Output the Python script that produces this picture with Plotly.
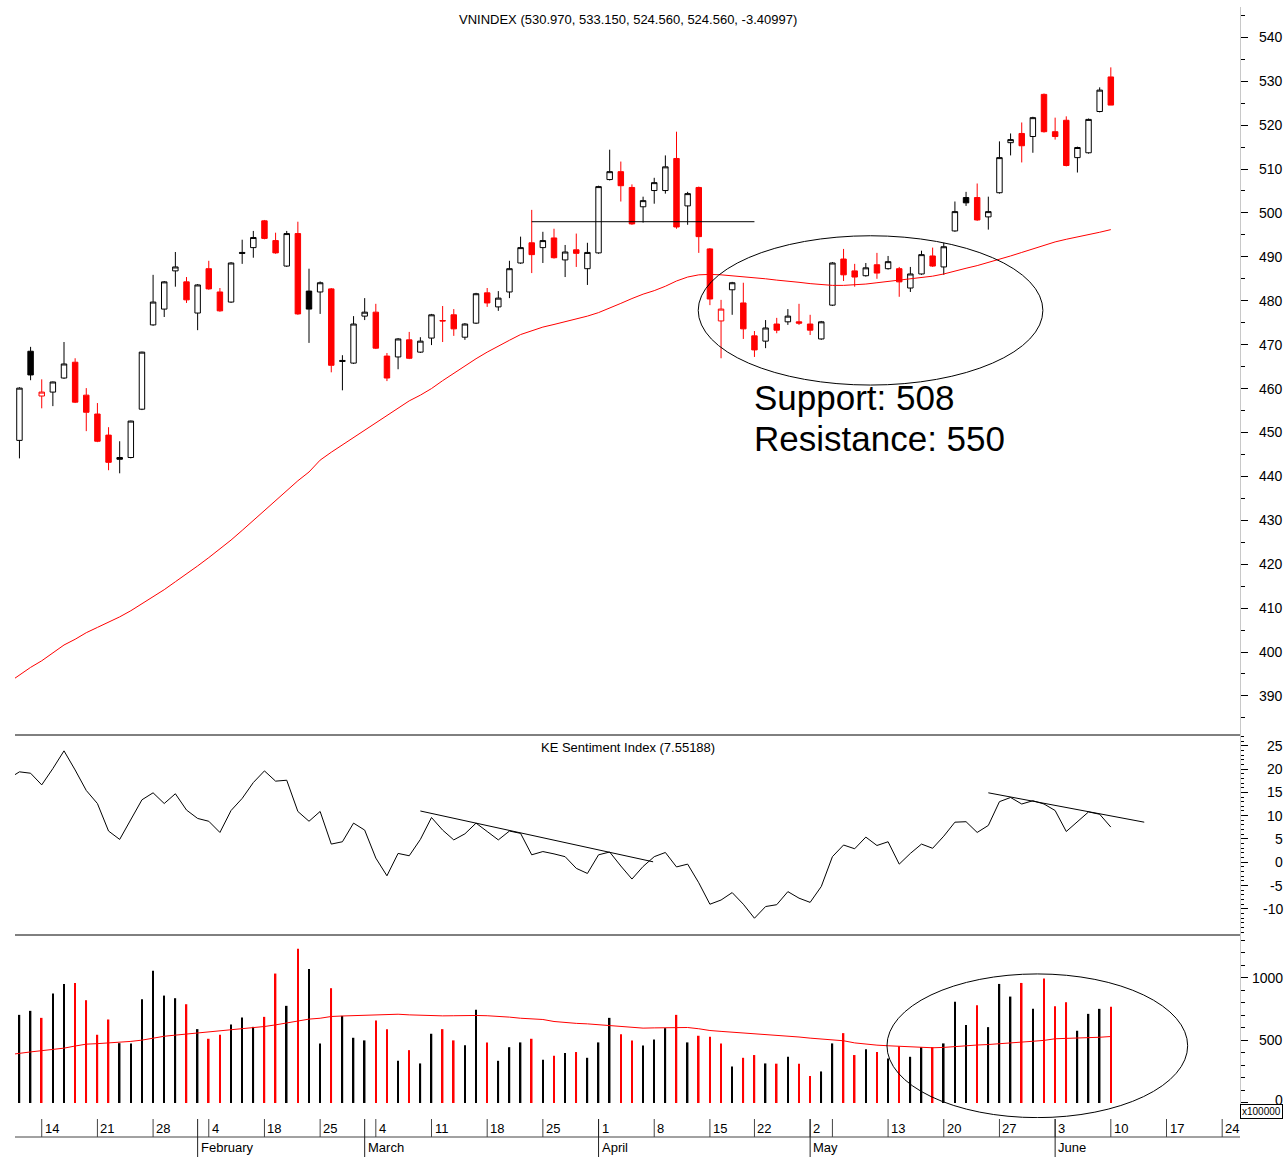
import plotly.graph_objects as go
from plotly.subplots import make_subplots

# trading-day index 0 = 10 Jan 2013, last bar (98) = 10 Jun 2013
opens = [448.2, 468.5, 458.3, 459.2, 462.4, 466.0, 458.5, 454.2, 449.4, 444.3,
         444.3, 455.3, 474.5, 478.1, 486.8, 484.3, 477.2, 487.3, 482.0, 479.7,
         491.0, 492.1, 498.2, 493.7, 487.9, 495.3, 482.2, 482.0, 482.7, 466.4,
         465.8, 476.5, 477.4, 467.4, 467.2, 471.1, 468.3, 471.5, 475.5, 476.8,
         471.7, 474.9, 481.8, 478.6, 482.0, 488.6, 493.2, 492.1, 494.3, 489.3,
         491.6, 487.3, 490.9, 507.6, 509.4, 505.8, 501.4, 505.1, 505.1, 512.4,
         501.6, 505.8, 491.8, 475.4, 482.5, 479.5, 472.0, 470.8, 474.7, 475.2,
         475.2, 474.7, 471.3, 479.0, 489.5, 486.8, 485.7, 488.2, 487.3, 487.3,
         482.9, 486.1, 490.2, 487.7, 495.9, 503.5, 503.5, 499.1, 504.6, 516.0,
         518.1, 517.4, 527.0, 518.5, 521.1, 512.6, 513.7, 523.1, 530.97]
highs = [460.3, 469.5, 462.1, 461.6, 470.6, 466.9, 460.1, 456.7, 451.2, 448.0,
         452.7, 468.4, 485.9, 484.5, 491.1, 485.4, 483.8, 489.1, 482.9, 488.8,
         493.9, 495.9, 498.4, 495.5, 495.9, 498.0, 487.3, 484.4, 482.9, 467.6,
         476.5, 480.6, 479.3, 468.1, 471.5, 472.9, 471.7, 477.0, 478.8, 478.1,
         474.9, 481.8, 482.9, 482.2, 489.1, 494.6, 500.7, 495.7, 496.4, 492.7,
         495.3, 493.2, 506.2, 514.4, 511.7, 506.5, 503.7, 508.0, 513.1, 518.5,
         504.8, 506.0, 492.0, 480.2, 484.3, 484.1, 473.1, 475.6, 476.1, 478.1,
         479.3, 476.8, 475.4, 488.8, 491.8, 488.4, 488.6, 490.9, 490.2, 487.7,
         487.7, 491.4, 492.1, 493.2, 502.6, 504.8, 506.7, 503.7, 516.3, 518.1,
         520.6, 521.9, 527.2, 521.7, 522.0, 515.1, 521.5, 528.6, 533.15]
lows = [444.1, 461.9, 455.5, 456.0, 462.2, 456.7, 450.3, 447.8, 441.4, 440.7,
        444.1, 455.1, 474.3, 476.3, 483.2, 479.5, 473.3, 482.5, 477.5, 479.5,
        488.4, 489.8, 494.0, 490.7, 487.7, 476.8, 470.4, 477.0, 463.7, 459.6,
        465.6, 475.6, 469.0, 461.7, 464.4, 466.7, 468.1, 469.9, 470.6, 472.0,
        471.1, 474.7, 478.6, 477.7, 480.6, 488.4, 486.3, 488.6, 489.6, 485.4,
        487.7, 483.6, 490.7, 507.4, 502.6, 497.3, 497.8, 502.1, 504.4, 496.4,
        497.3, 490.9, 479.0, 466.9, 476.8, 471.3, 467.2, 469.2, 472.6, 474.5,
        474.5, 472.2, 471.1, 478.8, 484.5, 483.2, 485.5, 485.0, 487.1, 480.9,
        482.0, 485.9, 487.7, 485.9, 495.7, 501.6, 498.2, 496.2, 504.4, 513.1,
        511.5, 513.7, 518.3, 516.7, 510.6, 509.2, 513.5, 522.9, 524.56]
closes = [460.1, 463.1, 459.2, 461.5, 465.6, 456.9, 454.6, 448.0, 443.2, 443.9,
          452.6, 468.3, 479.7, 484.3, 487.7, 480.2, 483.6, 482.7, 477.7, 488.6,
          490.8, 494.4, 494.2, 490.9, 495.3, 477.0, 478.1, 484.1, 465.3, 466.2,
          474.7, 477.4, 469.2, 462.4, 471.3, 466.9, 470.8, 476.8, 475.4, 473.6,
          474.7, 481.6, 479.5, 480.6, 487.3, 492.1, 490.5, 493.7, 489.8, 491.1,
          490.8, 491.0, 506.0, 509.4, 506.2, 497.5, 502.8, 506.9, 510.5, 496.8,
          504.4, 494.6, 480.4, 478.1, 484.1, 473.6, 468.8, 473.8, 473.3, 476.5,
          474.9, 473.3, 475.2, 488.6, 485.9, 485.4, 487.5, 486.3, 488.9, 484.3,
          486.1, 490.5, 487.9, 492.3, 500.3, 502.3, 498.4, 500.3, 512.6, 516.7,
          515.3, 521.7, 518.5, 517.4, 510.8, 514.9, 521.3, 527.97, 524.56]

# moving average of the index, starts one day before the first bar
ma_price = [393.0, 394.8, 396.5, 398.0, 399.9, 401.6, 402.9, 404.4, 405.6, 406.8,
            408.0, 409.4, 411.0, 412.5, 414.2, 416.0, 417.7, 419.6, 421.5, 423.4,
            425.5, 427.7, 430.0, 432.3, 434.5, 436.9, 439.0, 441.0, 443.7, 445.5,
            447.2, 448.8, 450.5, 452.2, 453.9, 455.6, 457.2, 458.5, 460.0, 461.8,
            463.5, 465.2, 466.8, 468.3, 469.7, 471.0, 472.3, 473.2, 474.0, 474.6,
            475.2, 475.8, 476.5, 477.3, 478.3, 479.4, 480.5, 481.5, 482.3, 483.3,
            484.5, 485.4, 485.9, 486.0, 485.9, 485.7, 485.5, 485.3, 485.0, 484.7,
            484.5, 484.2, 483.9, 483.7, 483.5, 483.5, 483.6, 483.8, 484.1, 484.4,
            484.6, 484.9, 485.2, 485.6, 486.1, 486.8, 487.4, 488.0, 488.7, 489.4,
            490.2, 491.0, 491.8, 492.6, 493.4, 494.0, 494.5, 495.0, 495.6, 496.2]

sentiment = [17.9,
             19.4, 19.1, 16.6, 20.1, 23.9, 19.8, 15.4, 12.6, 6.7, 4.9,
             9.2, 13.4, 14.9, 12.6, 14.7, 11.2, 9.4, 8.8, 6.4, 11.1,
             13.7, 17.1, 19.6, 17.4, 17.6, 10.9, 8.8, 10.9, 3.9, 4.4,
             8.4, 6.9, 0.9, -2.9, 1.9, 1.4, 4.9, 9.6, 6.9, 4.8,
             6.1, 8.4, 6.6, 4.8, 6.7, 6.2, 1.6, 2.3, 1.8, 1.2,
             -1.3, -2.4, 1.6, 2.2, -0.8, -3.6, -0.9, 1.2, 2.1, -1.0,
             -0.4, -4.4, -9.0, -8.1, -6.5, -9.0, -12.0, -9.5, -9.1, -6.3,
             -7.7, -8.6, -5.2, 1.2, 3.7, 2.9, 5.4, 3.6, 4.4, -0.4,
             1.9, 3.9, 3.0, 5.6, 8.6, 8.7, 6.4, 7.9, 13.0, 13.9,
             12.5, 13.2, 12.5, 11.1, 6.6, 8.7, 10.8, 10.3, 7.55188]

# volume in units of 100000
volume = [704, 736, 680, 874, 951, 959, 821, 545, 667, 478,
          476, 829, 1057, 858, 837, 789, 590, 513, 545, 627,
          683, 608, 688, 1034, 776, 1233, 1071, 476, 917, 696,
          521, 500, 659, 590, 337, 422, 316, 553, 590, 500,
          462, 744, 484, 337, 446, 484, 513, 345, 377, 399,
          407, 361, 484, 680, 550, 500, 460, 507, 598, 704,
          484, 537, 529, 476, 292, 361, 383, 316, 314, 369,
          314, 215, 252, 476, 558, 383, 430, 407, 356, 452,
          369, 446, 446, 476, 808, 622, 781, 606, 951, 850,
          959, 752, 994, 773, 805, 577, 712, 752, 768]
ma_volume = [385, 399, 408, 418, 428, 438, 455, 470, 474, 478,
             485, 492, 502, 520, 533, 542, 550, 558, 566, 575,
             582, 590, 598, 611, 624, 640, 656, 670, 677, 691,
             695, 698, 700, 704, 708, 709, 704, 700, 698, 696,
             697, 699, 699, 697, 693, 686, 677, 672, 667, 651,
             641, 636, 632, 626, 618, 610, 604, 598, 600, 602,
             603, 603, 593, 579, 572, 566, 559, 553, 549, 544,
             536, 527, 518, 510, 503, 497, 480, 468, 462, 457,
             453, 449, 446, 441, 444, 452, 458, 463, 467, 475,
             481, 487, 493, 500, 513, 516, 518, 521, 525, 531]

# x axis labels: (bar index, text)
week_ticks = [(2, "14"), (7, "21"), (12, "28"), (17, "4"), (22, "18"), (27, "25"),
              (32, "4"), (37, "11"), (42, "18"), (47, "25"), (52, "1"), (57, "8"),
              (62, "15"), (66, "22"), (71, "2"), (73, ""), (78, "13"), (83, "20"),
              (88, "27"), (93, "3"), (98, "10"), (103, "17"), (108, "24")]
month_ticks = [(16, "February"), (31, "March"), (52, "April"), (71, "May"), (93, "June")]

price_labels = list(range(390, 541, 10))
sent_labels = list(range(-10, 26, 5))
vol_labels = [0, 500, 1000]

# hand-drawn marks (bar index, value)
resist_line = [(46, 498.0), (66, 498.0)]
price_ellipse = [(60.95, 460.8), (91.9, 494.8)]
sent_trend1 = [(36.0, 11.0), (56.9, 0.1)]
sent_trend2 = [(87.0, 14.9), (101.0, 8.6)]
vol_ellipse = [(77.9, -117), (104.9, 1031)]

RED = "#ff0000"
FONT = "Liberation Sans, Arial, sans-serif"
X = list(range(len(closes)))

W, H = 1287, 1157
TOP, BOT = 7, 1118          # pixel rows of plot area


def py(pix):
    # pixel row -> paper y
    return (BOT - pix) / (BOT - TOP)


prev = [None] + closes[:-1]
is_down = [p is not None and c < p for c, p in zip(closes, prev)]
is_hollow = [c > o for o, c in zip(opens, closes)]

fig = make_subplots(rows=3, cols=1, shared_xaxes=True, vertical_spacing=0,
                    row_heights=[728, 200, 183])

styles = [
    (True, False, "black", "white"),
    (True, True, RED, "white"),
    (False, True, RED, RED),
    (False, False, "black", "black"),
]
for hollow, down, lc, fc in styles:
    idx = [i for i in X if is_hollow[i] == hollow and is_down[i] == down]
    if not idx:
        continue
    st = dict(line=dict(color=lc, width=1), fillcolor=fc)
    fig.add_trace(go.Candlestick(
        x=idx, open=[opens[i] for i in idx], high=[highs[i] for i in idx],
        low=[lows[i] for i in idx], close=[closes[i] for i in idx],
        increasing=st, decreasing=st, whiskerwidth=0, showlegend=False,
        hoverinfo="skip"), row=1, col=1)

fig.add_trace(go.Scatter(x=list(range(-1, len(closes))), y=ma_price, mode="lines",
                         line=dict(color=RED, width=1), showlegend=False), row=1, col=1)

fig.add_trace(go.Scatter(x=list(range(-1, len(closes))), y=sentiment, mode="lines",
                         line=dict(color="black", width=1), showlegend=False), row=2, col=1)

fig.add_trace(go.Bar(x=X, y=volume, width=0.14,
                     marker=dict(color=[RED if d else "black" for d in is_down], line_width=0),
                     showlegend=False), row=3, col=1)
fig.add_trace(go.Scatter(x=list(range(-1, len(closes))), y=ma_volume, mode="lines",
                         line=dict(color=RED, width=1), showlegend=False), row=3, col=1)

# drawn objects
fig.add_shape(type="line", x0=resist_line[0][0], y0=resist_line[0][1],
              x1=resist_line[1][0], y1=resist_line[1][1],
              line=dict(color="black", width=1), row=1, col=1)
fig.add_shape(type="circle", x0=price_ellipse[0][0], y0=price_ellipse[0][1],
              x1=price_ellipse[1][0], y1=price_ellipse[1][1],
              line=dict(color="black", width=1), row=1, col=1)
for tl in (sent_trend1, sent_trend2):
    fig.add_shape(type="line", x0=tl[0][0], y0=tl[0][1], x1=tl[1][0], y1=tl[1][1],
                  line=dict(color="black", width=1), row=2, col=1)
fig.add_shape(type="circle", x0=vol_ellipse[0][0], y0=vol_ellipse[0][1],
              x1=vol_ellipse[1][0], y1=vol_ellipse[1][1],
              line=dict(color="black", width=1), row=3, col=1)

# panel separators
for pix in (735, 935):
    fig.add_shape(type="line", xref="paper", yref="paper", x0=0, x1=1,
                  y0=py(pix), y1=py(pix), line=dict(color="black", width=1))

# bottom date axis drawn by hand
fig.add_shape(type="line", xref="paper", yref="paper", x0=0, x1=1,
              y0=py(1137), y1=py(1137), line=dict(color="#444", width=1))
for i, lab in week_ticks:
    fig.add_shape(type="line", xref="x", yref="paper", x0=i, x1=i,
                  y0=py(1137), y1=py(1119), line=dict(color="#444", width=1))
    if lab:
        fig.add_annotation(x=i, y=py(1128), xref="x", yref="paper", text=lab,
                           xanchor="left", yanchor="middle", xshift=1, showarrow=False,
                           font=dict(family=FONT, size=13, color="black"))
for i, lab in month_ticks:
    fig.add_shape(type="line", xref="x", yref="paper", x0=i, x1=i,
                  y0=py(1157), y1=py(1119), line=dict(color="#222", width=1))
    fig.add_annotation(x=i, y=py(1147), xref="x", yref="paper", text=lab,
                       xanchor="left", yanchor="middle", xshift=1, showarrow=False,
                       font=dict(family=FONT, size=13, color="black"))

# right-aligned value labels next to the y axes
for yref, labels in (("y", price_labels), ("y2", sent_labels), ("y3", vol_labels)):
    for v in labels:
        fig.add_annotation(x=1, xref="paper", y=v, yref=yref, text=str(v),
                           xanchor="right", yanchor="middle", xshift=45,
                           yshift=3 if yref == "y3" and v == 0 else 0, showarrow=False,
                           font=dict(family=FONT, size=14, color="black"))

# texts
fig.add_annotation(x=0.5, y=1, xref="paper", yref="paper", yshift=-3,
                   text="VNINDEX (530.970, 533.150, 524.560, 524.560, -3.40997)",
                   xanchor="center", yanchor="top",
                   showarrow=False, font=dict(family=FONT, size=13, color="black"))
fig.add_annotation(x=0.5, y=py(747), xref="paper", yref="paper",
                   text="KE Sentiment Index (7.55188)",
                   showarrow=False, font=dict(family=FONT, size=13, color="black"))
fig.add_annotation(x=65.8, y=458.0, xref="x", yref="y", text="Support: 508",
                   xanchor="left", yanchor="middle", showarrow=False,
                   font=dict(family=FONT, size=35, color="black"))
fig.add_annotation(x=65.8, y=448.7, xref="x", yref="y", text="Resistance: 550",
                   xanchor="left", yanchor="middle", showarrow=False,
                   font=dict(family=FONT, size=35, color="black"))
fig.add_annotation(x=1, y=py(1104), xref="paper", yref="paper", text="x100000",
                   xanchor="left", yanchor="top", showarrow=False, bgcolor="white",
                   bordercolor="black", borderwidth=1, borderpad=1,
                   font=dict(family=FONT, size=10, color="black"))

fig.update_xaxes(range=[-0.4, 109.6], showticklabels=False, showgrid=False,
                 zeroline=False, ticks="", showline=False)
fig.update_layout(xaxis_rangeslider_visible=False)

yax = dict(side="right", showgrid=False, zeroline=False, showline=True,
           linecolor="#c8c8c8", linewidth=1, ticks="outside", ticklen=7,
           tickcolor="black", showticklabels=False, automargin=False)
fig.update_yaxes(**yax, range=[381.1, 546.9], tickvals=price_labels,
                 minor=dict(dtick=5, tick0=0, ticks="outside", ticklen=4, tickcolor="black"),
                 row=1, col=1)
fig.update_yaxes(**yax, range=[-15.6, 27.3], tickvals=sent_labels,
                 minor=dict(dtick=1, tick0=0, ticks="outside", ticklen=3, tickcolor="black"),
                 row=2, col=1)
fig.update_yaxes(**yax, range=[-120, 1342], tickvals=vol_labels,
                 minor=dict(dtick=100, tick0=0, ticks="outside", ticklen=4, tickcolor="black"),
                 row=3, col=1)

fig.update_layout(width=W, height=H, margin=dict(l=15, r=47, t=TOP, b=H - BOT),
                  paper_bgcolor="white", plot_bgcolor="white", showlegend=False,
                  font=dict(family=FONT, color="black"))

fig.write_html("out.html", config={"displayModeBar": False},
               post_script="document.body.style.margin='0';")
